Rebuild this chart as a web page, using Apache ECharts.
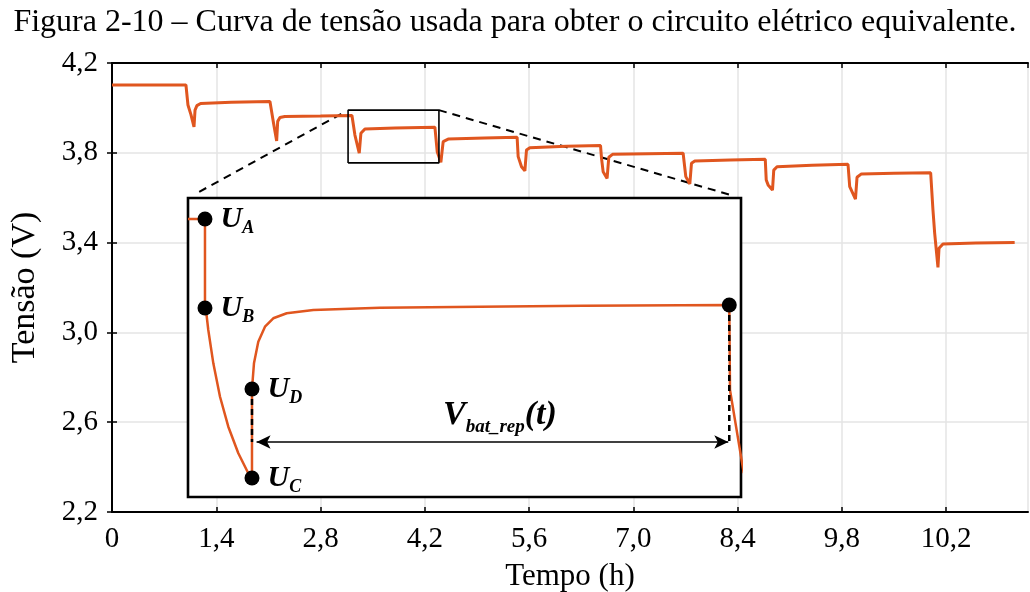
<!DOCTYPE html>
<html>
<head>
<meta charset="utf-8">
<script src="https://cdn.jsdelivr.net/npm/echarts@6/dist/echarts.min.js"></script>
<style>html,body{margin:0;padding:0;background:#fff;}#c{width:1030px;height:592px;}</style>
</head>
<body>
<div id="c"></div>
<script>
// ---------- data ----------
const chartTitle = 'Figura 2-10 – Curva de tensão usada para obter o circuito elétrico equivalente.';
const xAxisName = 'Tempo (h)';
const yAxisName = 'Tensão (V)';
const xTickLabels = ['0', '1,4', '2,8', '4,2', '5,6', '7,0', '8,4', '9,8', '10,2'];
const yTickLabels = ['2,2', '2,6', '3,0', '3,4', '3,8', '4,2'];

// main curve: time (h) and voltage (V)
const timeH = [
  0, 0.993,
  1.020, 1.060, 1.101, 1.115, 1.140, 1.190, 1.600, 2.121,
  2.165, 2.211, 2.225, 2.255, 2.320, 2.800, 3.222,
  3.262, 3.320, 3.342, 3.396, 3.800, 4.336,
  4.367, 4.416, 4.447, 4.514, 5.000, 5.440,
  5.454, 5.499, 5.544, 5.566, 5.611, 6.100, 6.560,
  6.573, 6.595, 6.648, 6.671, 6.721, 7.200, 7.669,
  7.705, 7.759, 7.781, 7.826, 8.300, 8.772,
  8.785, 8.810, 8.869, 8.886, 8.930, 9.400, 9.883,
  9.906, 9.983, 10.004, 10.063, 10.500, 10.993,
  11.024, 11.047, 11.091, 11.105, 11.158, 11.600, 12.121
];
const voltV = [
  4.102, 4.102,
  4.013, 3.970, 3.915, 3.990, 4.010, 4.020, 4.025, 4.028,
  3.940, 3.853, 3.940, 3.957, 3.962, 3.964, 3.966,
  3.879, 3.798, 3.887, 3.906, 3.911, 3.914,
  3.805, 3.758, 3.850, 3.861, 3.866, 3.869,
  3.783, 3.738, 3.720, 3.813, 3.823, 3.829, 3.832,
  3.776, 3.716, 3.686, 3.780, 3.793, 3.796, 3.798,
  3.694, 3.661, 3.753, 3.763, 3.768, 3.771,
  3.679, 3.657, 3.634, 3.723, 3.738, 3.745, 3.749,
  3.649, 3.594, 3.691, 3.706, 3.709, 3.711,
  3.545, 3.441, 3.290, 3.375, 3.394, 3.398, 3.400
];

// zoom box on the main curve (data coordinates)
const zoomBoxX = [3.17, 4.39];
const zoomBoxY = [3.755, 3.99];

// inset (schematic of one pulse, relative units 0..100)
const insetX = [0, 3.07, 3.07, 3.25, 3.67, 4.58, 5.79, 7.29, 9.10, 10.90, 11.57, 11.57, 11.93, 12.71, 13.92, 15.42, 17.85, 22.66, 34.72, 52.80, 71.43, 97.88, 98.01, 100.5];
const insetY = [92.98, 92.98, 63.21, 62.54, 55.85, 44.71, 33.54, 23.51, 14.62, 7.93, 6.35, 36.12, 44.72, 51.94, 56.96, 59.77, 61.44, 62.54, 63.31, 63.65, 63.98, 64.21, 35.79, 8.0];
const insetPointNames = ['A', 'B', 'C', 'D', ''];
const insetPointX = [3.07, 3.07, 11.57, 11.57, 97.88];
const insetPointY = [92.98, 63.21, 6.35, 36.12, 64.21];
const dashLeftX = [11.57, 11.57], dashLeftY = [36.12, 18.4];
const dashRightX = [97.88, 97.88], dashRightY = [64.21, 17.4];
const arrowX = [12.4, 97.7], arrowY = [18.4, 18.4];
const repLabelPos = [56.4, 27.2];

// ---------- chart ----------
const FONT = 'Liberation Serif';
const ORANGE = '#E0561F';
const inset = { left: 188, top: 198, width: 553, height: 299 };

const zip = (a, b) => a.map((v, i) => [v, b[i]]);

const chart = echarts.init(document.getElementById('c'), null, { renderer: 'canvas' });

function xFmt(v) {
  const i = Math.round(v / 1.4);
  if (Math.abs(v - i * 1.4) > 1e-6 || i >= xTickLabels.length) return '';
  return xTickLabels[i];
}
function yFmt(v) {
  const i = Math.round((v - 2.2) / 0.4);
  if (Math.abs(v - (2.2 + i * 0.4)) > 1e-6 || i < 0 || i >= yTickLabels.length) return '';
  return yTickLabels[i];
}

const axisLineStyle = { color: '#000', width: 2 };
const tickStyle = { inside: true, length: 5, lineStyle: { color: '#000', width: 1.5 } };
const labelStyle = { fontFamily: FONT, fontSize: 29, color: '#000' };
const gridLineStyle = { show: true, lineStyle: { color: '#e4e4e4', width: 1.5 } };

const boxData = [
  [zoomBoxX[0], zoomBoxY[0]], [zoomBoxX[1], zoomBoxY[0]],
  [zoomBoxX[1], zoomBoxY[1]], [zoomBoxX[0], zoomBoxY[1]], [zoomBoxX[0], zoomBoxY[0]]
];

const subRich = {
  u: { fontFamily: FONT, fontSize: 30, fontWeight: 'bold', fontStyle: 'italic', color: '#000', lineHeight: 30 },
  s: { fontFamily: FONT, fontSize: 18, fontWeight: 'bold', fontStyle: 'italic', color: '#000', lineHeight: 18, padding: [19, 0, 0, 0] },
  v: { fontFamily: FONT, fontSize: 34, fontWeight: 'bold', fontStyle: 'italic', color: '#000', lineHeight: 34 },
  b: { fontFamily: FONT, fontSize: 19, fontWeight: 'bold', fontStyle: 'italic', color: '#000', lineHeight: 19, padding: [22, 0, 0, 0] }
};

const option = {
  animation: false,
  backgroundColor: '#fff',
  title: {
    text: chartTitle, left: 'center', top: 2,
    textStyle: { fontFamily: FONT, fontSize: 32, fontWeight: 'normal', color: '#000' }
  },
  grid: [
    { left: 112, top: 63, right: 2, bottom: 80, outerBoundsMode: 'none', containLabel: false },
    { left: inset.left, top: inset.top, width: inset.width, height: inset.height, outerBoundsMode: 'none' }
  ],
  xAxis: [
    {
      type: 'value', gridIndex: 0, position: 'bottom', min: 0, max: 12.3, interval: 1.4,
      axisLine: { lineStyle: axisLineStyle }, axisTick: tickStyle,
      axisLabel: Object.assign({ margin: 13, formatter: xFmt, showMaxLabel: false }, labelStyle),
      splitLine: gridLineStyle,
      name: xAxisName, nameLocation: 'middle', nameGap: 49,
      nameTextStyle: { fontFamily: FONT, fontSize: 31, color: '#000' }
    },
    {
      type: 'value', gridIndex: 0, position: 'top', min: 0, max: 12.3, interval: 1.4,
      axisLine: { lineStyle: axisLineStyle }, axisTick: tickStyle,
      axisLabel: { show: false }, splitLine: { show: false }
    },
    { type: 'value', gridIndex: 1, min: 0, max: 100, show: false }
  ],
  yAxis: [
    {
      type: 'value', gridIndex: 0, position: 'left', min: 2.2, max: 4.2, interval: 0.4,
      axisLine: { lineStyle: axisLineStyle }, axisTick: tickStyle,
      axisLabel: Object.assign({ margin: 14, formatter: yFmt }, labelStyle),
      splitLine: gridLineStyle,
      name: yAxisName, nameLocation: 'middle', nameGap: 70,
      nameTextStyle: { fontFamily: FONT, fontSize: 34, color: '#000' }
    },
    {
      type: 'value', gridIndex: 0, position: 'right', min: 2.2, max: 4.2, interval: 0.4,
      axisLine: { lineStyle: axisLineStyle }, axisTick: tickStyle,
      axisLabel: { show: false }, splitLine: { show: false }
    },
    { type: 'value', gridIndex: 1, min: 0, max: 100, show: false }
  ],
  series: [
    {
      name: 'curve', type: 'line', xAxisIndex: 0, yAxisIndex: 0, z: 3,
      data: zip(timeH, voltV), symbol: 'none', silent: true,
      lineStyle: { color: ORANGE, width: 3 }
    },
    {
      name: 'zoomBox', type: 'line', xAxisIndex: 0, yAxisIndex: 0, z: 4,
      data: boxData, symbol: 'none', silent: true,
      lineStyle: { color: '#000', width: 1.6 }
    },
    {
      name: 'insetCurve', type: 'line', xAxisIndex: 2, yAxisIndex: 2, z: 5,
      data: zip(insetX, insetY), symbol: 'none', silent: true, clip: true,
      lineStyle: { color: ORANGE, width: 2.5 }
    },
    {
      name: 'dashL', type: 'line', xAxisIndex: 2, yAxisIndex: 2, z: 6,
      data: zip(dashLeftX, dashLeftY), symbol: 'none', silent: true,
      lineStyle: { color: '#000', width: 2.5, type: [6, 4] }
    },
    {
      name: 'dashR', type: 'line', xAxisIndex: 2, yAxisIndex: 2, z: 6,
      data: zip(dashRightX, dashRightY), symbol: 'none', silent: true,
      lineStyle: { color: '#000', width: 2.5, type: [6, 4] }
    },
    {
      name: 'points', type: 'scatter', xAxisIndex: 2, yAxisIndex: 2, z: 7,
      data: insetPointX.map((x, i) => ({ value: [x, insetPointY[i]], name: insetPointNames[i] })),
      symbol: 'circle', symbolSize: 15, itemStyle: { color: '#000', opacity: 1 }, silent: true,
      label: {
        show: true, position: 'right', distance: 8,
        formatter: p => p.name ? '{u|U}{s|' + p.name + '}' : '',
        rich: subRich
      },
      markLine: {
        silent: true, symbol: ['arrow', 'arrow'], symbolSize: [10, 14],
        label: { show: false },
        lineStyle: { color: '#000', width: 1.6, type: 'solid', opacity: 1 },
        data: [[{ coord: [arrowX[0], arrowY[0]] }, { coord: [arrowX[1], arrowY[1]] }]]
      }
    },
    {
      name: 'repLabel', type: 'scatter', xAxisIndex: 2, yAxisIndex: 2, z: 7,
      data: [repLabelPos], symbolSize: 0, itemStyle: { color: '#000', opacity: 1 }, silent: true,
      label: {
        show: true, position: 'inside', color: '#000',
        formatter: () => '{v|V}{b|bat_rep}{v|(t)}',
        rich: subRich
      }
    }
  ]
};
chart.setOption(option);

// annotation frame + dashed connectors
const tl = chart.convertToPixel({ xAxisIndex: 0, yAxisIndex: 0 }, [zoomBoxX[0], zoomBoxY[1]]);
const tr = chart.convertToPixel({ xAxisIndex: 0, yAxisIndex: 0 }, [zoomBoxX[1], zoomBoxY[1]]);
const iTL = [inset.left, inset.top];
const iTR = [inset.left + inset.width, inset.top];
function shorten(a, b, f0, f1) {
  return { x1: a[0] + (b[0] - a[0]) * f0, y1: a[1] + (b[1] - a[1]) * f0, x2: a[0] + (b[0] - a[0]) * f1, y2: a[1] + (b[1] - a[1]) * f1 };
}
chart.setOption({
  graphic: [
    {
      type: 'rect', z: 1, silent: true,
      shape: { x: inset.left, y: inset.top, width: inset.width, height: inset.height },
      style: { fill: '#fff', stroke: '#000', lineWidth: 2.6 }
    },
    {
      type: 'line', z: 1, silent: true, shape: shorten(iTL, tl, 0.07, 0.98),
      style: { stroke: '#000', lineWidth: 2, lineDash: [8, 6] }
    },
    {
      type: 'line', z: 1, silent: true, shape: shorten(tr, iTR, 0.0, 0.97),
      style: { stroke: '#000', lineWidth: 2, lineDash: [8, 6] }
    }
  ]
});
</script>
</body>
</html>
